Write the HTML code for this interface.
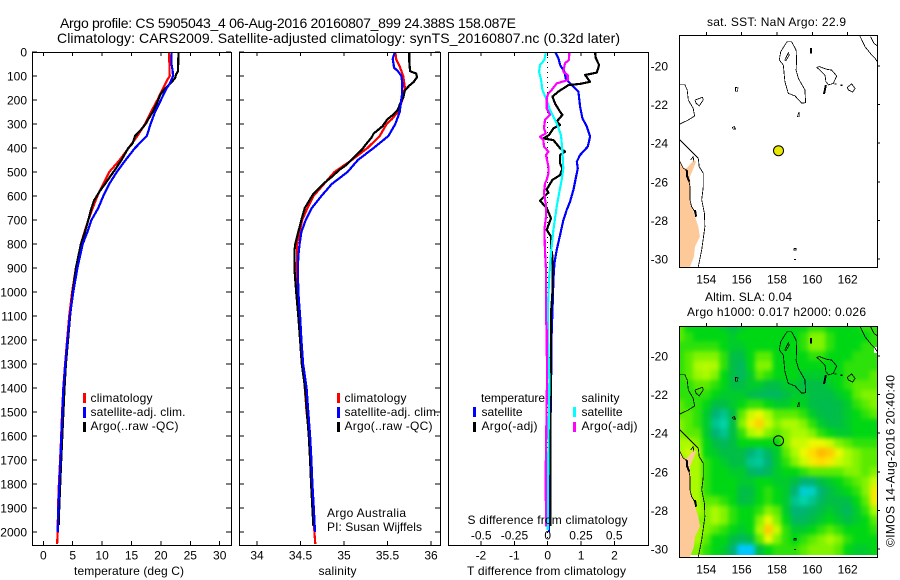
<!DOCTYPE html>
<html lang="en">
<head>
<meta charset="utf-8">
<title>Argo profile CS 5905043_4</title>
<style>
html,body{margin:0;padding:0;background:#fff;}
svg{display:block;font-family:"Liberation Sans",sans-serif;font-size:12px;fill:#000;}
.t14{font-size:14px;}
</style>
</head>
<body>
<svg id="chart" xmlns="http://www.w3.org/2000/svg" width="900" height="580" viewBox="0 0 900 580">
<rect x="0" y="0" width="900" height="580" fill="#fff"/>
<text class="t14" x="60" y="28" textLength="456" lengthAdjust="spacing">Argo profile: CS 5905043_4 06-Aug-2016 20160807_899 24.388S 158.087E</text>
<text class="t14" x="57" y="43" textLength="563" lengthAdjust="spacing">Climatology: CARS2009. Satellite-adjusted climatology: synTS_20160807.nc (0.32d later)</text>

<defs>
<clipPath id="clip-temp"><rect x="32" y="52" width="199" height="493"/></clipPath>
<clipPath id="clip-sal"><rect x="240" y="52" width="200" height="493"/></clipPath>
<clipPath id="clip-diff"><rect x="449" y="52" width="199" height="493"/></clipPath>
<clipPath id="clip-map1"><rect x="679" y="35" width="198" height="232"/></clipPath>
<clipPath id="clip-map2"><rect x="679" y="326" width="198" height="231"/></clipPath>
<clipPath id="clip-heat"><rect x="679" y="326" width="198" height="229"/></clipPath>
<filter id="heat-blur" x="-10%" y="-10%" width="120%" height="120%" color-interpolation-filters="sRGB"><feGaussianBlur stdDeviation="2.5"/></filter>
</defs>

<g id="temp-panel"></g>
<g id="sal-panel"></g>
<g id="diff-panel"></g>
<g id="map1"></g>
<g id="map2"></g>

<g>
<rect x="83" y="393" width="3" height="10" fill="#f00"/>
<rect x="83" y="407" width="3" height="11" fill="#00f"/>
<rect x="83" y="422" width="3" height="10" fill="#000"/>
<text x="90.5" y="402" textLength="62" lengthAdjust="spacing">climatology</text>
<text x="90.5" y="416" textLength="95" lengthAdjust="spacing">satellite-adj. clim.</text>
<text x="90.5" y="430" textLength="88" lengthAdjust="spacing">Argo(..raw -QC)</text>
</g>
<text x="74" y="575" textLength="110" lengthAdjust="spacing">temperature (deg C)</text>

<g>
<rect x="337" y="393" width="3" height="10" fill="#f00"/>
<rect x="337" y="407" width="3" height="11" fill="#00f"/>
<rect x="337" y="422" width="3" height="10" fill="#000"/>
<text x="344.5" y="402" textLength="62" lengthAdjust="spacing">climatology</text>
<text x="344.5" y="416" textLength="95" lengthAdjust="spacing">satellite-adj. clim.</text>
<text x="344.5" y="430" textLength="88" lengthAdjust="spacing">Argo(..raw -QC)</text>
</g>
<text x="327" y="517" textLength="79" lengthAdjust="spacing">Argo Australia</text>
<text x="327" y="531" textLength="95" lengthAdjust="spacing">PI: Susan Wijffels</text>
<text x="318.5" y="575" textLength="38" lengthAdjust="spacing">salinity</text>

<g>
<rect x="473" y="407" width="3" height="10" fill="#00f"/>
<rect x="473" y="422" width="3" height="10" fill="#000"/>
<rect x="573" y="407" width="3" height="10" fill="#0ff"/>
<rect x="573" y="422" width="3" height="10" fill="#f0f"/>
<text x="481" y="402" textLength="64" lengthAdjust="spacing">temperature</text>
<text x="481.5" y="416" textLength="41" lengthAdjust="spacing">satellite</text>
<text x="481.5" y="430" textLength="56" lengthAdjust="spacing">Argo(-adj)</text>
<text x="581.5" y="402" textLength="38" lengthAdjust="spacing">salinity</text>
<text x="581.5" y="416" textLength="41" lengthAdjust="spacing">satellite</text>
<text x="581.5" y="430" textLength="56" lengthAdjust="spacing">Argo(-adj)</text>
</g>
<text x="467.5" y="524" textLength="160" lengthAdjust="spacing">S difference from climatology</text>
<text x="467" y="575" textLength="159" lengthAdjust="spacing">T difference from climatology</text>

<text x="707" y="26" textLength="139" lengthAdjust="spacing">sat. SST: NaN Argo: 22.9</text>
<text x="705" y="301" textLength="87" lengthAdjust="spacing">Altim. SLA: 0.04</text>
<text x="687" y="316" textLength="179" lengthAdjust="spacing">Argo h1000: 0.017 h2000: 0.026</text>
<text transform="translate(894.5,547) rotate(-90)" textLength="172" lengthAdjust="spacing">©IMOS 14-Aug-2016 20:40:40</text>
</svg>

<script>
// ---------- temperature profile data ----------
const depthTicks = [0,100,200,300,400,500,600,700,800,900,1000,1100,1200,1300,1400,1500,1600,1700,1800,1900,2000];
const tempTicks = [0,5,10,15,20,25,30];
const salTicks = [34,34.5,35,35.5,36];
const salTickLabels = ['34','34.5','35','35.5','36'];
const tDiffTicks = [-2,-1,0,1,2];
const sDiffTicks = [-0.5,-0.25,0,0.25,0.5];
const sDiffTickLabels = ['-0.5','-0.25','0','0.25','0.5'];

const tempClimDepth = [0,100,120,170,200,250,300,350,400,450,500,550,600,650,700,750,800,900,1000,1100,1200,1300,1400,1500,1600,1700,1800,1900,2000,2050];
const tempClimValues = [21.4,21.5,21.0,20.0,19.4,18.3,17.3,16.0,14.5,13.0,11.2,10.2,9.2,8.4,7.65,7.0,6.4,5.55,4.9,4.4,4.05,3.7,3.4,3.2,3.05,2.85,2.65,2.5,2.45,2.35];
const tempSatDepth = [0,50,80,100,130,150,200,250,300,350,400,450,500,550,600,650,700,750,800,900,1000,1100,1200,1300,1400,1500,1600,1700,1800,1900,2000];
const tempSatValues = [21.8,21.8,22.0,22.05,21.55,21.0,20.0,19.0,18.25,17.6,15.6,14.0,12.5,11.2,10.2,9.35,8.2,7.5,6.7,5.8,5.1,4.5,4.1,3.75,3.42,3.23,3.06,2.9,2.72,2.55,2.45];
const tempArgoDepth = [0,80,95,110,125,140,160,180,200,250,280,300,330,350,380,400,450,480,520,550,580,620,650,700,750,800,900,1000,1100,1200,1300,1400,1500,1600,1700,1800,1900,1970];
const tempArgoValues = [23.0,22.9,22.55,22.4,21.8,21.25,20.4,19.85,19.55,18.6,17.85,17.4,16.4,15.6,15.2,14.45,13.3,12.5,11.35,10.5,9.6,8.6,8.2,7.65,7.1,6.4,5.55,5.0,4.55,4.2,3.85,3.6,3.42,3.23,3.05,2.87,2.7,2.62];

// ---------- salinity profile data ----------
const salClimDepth = [0,30,60,100,150,180,200,250,280,300,350,400,450,500,550,600,650,700,750,800,850,900,1000,1100,1200,1300,1400,1500,1600,1700,1800,1900,2000,2050];
const salClimValues = [35.59,35.6,35.64,35.68,35.7,35.68,35.67,35.62,35.55,35.49,35.41,35.27,35.09,34.89,34.77,34.65,34.58,34.52,34.49,34.46,34.46,34.456,34.47,34.49,34.505,34.525,34.55,34.57,34.6,34.617,34.63,34.65,34.66,34.67];
const salSatDepth = [0,15,30,50,65,80,100,130,180,250,300,350,400,450,500,550,600,650,700,750,800,850,900,1000,1100,1200,1300,1400,1500,1600,1700,1800,1900,2000];
const salSatValues = [35.59,35.57,35.56,35.57,35.575,35.62,35.66,35.67,35.665,35.64,35.59,35.51,35.34,35.16,35.04,34.86,34.74,34.63,34.56,34.51,34.49,34.475,34.47,34.475,34.495,34.51,34.53,34.57,34.59,34.61,34.625,34.637,34.653,34.667];
const salArgoDepth = [0,40,80,90,105,125,140,160,190,220,240,260,280,310,340,355,390,405,430,470,490,520,550,590,620,650,700,750,800,830,900,1000,1100,1200,1300,1400,1500,1600,1700,1800,1900,1975];
const salArgoValues = [35.75,35.75,35.76,35.83,35.84,35.8,35.75,35.7,35.68,35.64,35.62,35.57,35.5,35.44,35.34,35.32,35.24,35.21,35.14,35.03,34.95,34.86,34.76,34.65,34.6,34.55,34.51,34.475,34.44,34.43,34.43,34.45,34.475,34.495,34.515,34.553,34.573,34.595,34.61,34.622,34.637,34.648];

// ---------- difference profile data ----------
const tDiffSatDepth = [3,26,54,82,110,131,165,228,276,311,353,394,429,457,485,519,575,623,658,700,762,825,880,950,1088,1158,1400,1700,2000];
const tDiffSatValues = [0.24,0.32,0.37,0.5,0.54,0.67,0.92,0.97,1.04,1.17,1.27,1.2,0.97,0.87,0.9,0.85,0.77,0.67,0.57,0.47,0.37,0.27,0.2,0.17,0.14,0.12,0.1,0.07,0.04];
const tDiffArgoDepth = [3,26,54,86,96,124,133,138,165,186,207,214,249,262,290,304,318,346,360,367,401,415,429,464,485,513,533,561,572,586,619,651,693,741,769,811,852,922,1005,1088,1158,1400,1700,1975];
const tDiffArgoValues = [1.42,1.44,1.54,1.47,1.12,1.27,0.97,0.62,0.32,0.14,0.2,0.22,0.37,0.44,0.27,0.37,0.17,0.04,-0.13,0.17,0.37,0.52,0.37,0.37,0.44,0.37,0.14,0.02,-0.03,0.02,-0.23,-0.03,0.1,-0.03,0.1,0.1,0.14,0.14,0.14,0.1,0.1,0.09,0.08,0.08];
const sDiffSatDepth = [3,33,54,82,117,158,193,242,297,346,408,485,533,575,644,741,838,950,1088,1158,1367,1644,1992];
const sDiffSatValues = [-0.015,-0.025,-0.058,-0.065,-0.05,-0.04,-0.0125,0.0175,0.0675,0.1,0.11,0.1175,0.105,0.09,0.0675,0.0425,0.025,0.01,0,0,0.0125,0.005,0];
const sDiffArgoDepth = [3,33,47,82,96,117,131,158,172,193,235,262,283,318,339,353,367,394,415,429,478,506,533,547,589,637,686,741,832,908,1116,1158,1367,1750,1978];
const sDiffArgoValues = [0.1625,0.16,0.13,0.1175,0.15,0.15,0.0675,0.03,0.005,-0.0075,-0.0075,0.0175,-0.02,-0.0275,-0.015,-0.0575,-0.0325,-0.0275,0.005,-0.0125,0.005,0.005,-0.0075,-0.02,-0.0275,-0.0125,-0.0125,-0.025,-0.02,-0.0125,-0.0125,-0.0075,-0.005,-0.015,-0.0125];

// ---------- map data ----------
const lonTicks = [154,156,158,160,162];
const latTicks = [-20,-22,-24,-26,-28,-30];
const argoLon = 158.087;
const argoLat = -24.388;
const landLon = [152.47,152.7,152.89,153.3,153.42,153.08,153.11,153.08,153.3,153.55,153.64,153.36,153.3,153.08,152.47];
const landLat = [-24.9,-25.3,-25.3,-24.87,-24.96,-25.73,-26.25,-26.94,-27.63,-28.32,-28.84,-29.36,-29.88,-30.41,-30.41];
const contourLines = [
 [[158.58,-18.74],[158.83,-18.74],[159.08,-19.17],[159.11,-19.69],[159.08,-20.21],[159.21,-20.64],[159.58,-21.24],[159.62,-21.9],[159.4,-21.93],[159.02,-21.55],[158.64,-21.42],[158.45,-20.81],[158.36,-19.95],[158.13,-19.69],[158.21,-19.26],[158.45,-18.91],[158.58,-18.74]],
 [[158.45,-19.69],[158.64,-19.31],[158.7,-19.43],[158.51,-19.72],[158.45,-19.69]],
 [[160.25,-20.07],[160.4,-20.03],[160.81,-20.17],[161.09,-20.21],[161.38,-20.52],[161.19,-20.9],[160.91,-20.98],[160.77,-20.81],[160.72,-20.47],[160.43,-20.21],[160.25,-20.07]],
 [[161.98,-21.11],[162.23,-20.93],[162.42,-21.16],[162.28,-21.36],[162.04,-21.24],[161.98,-21.11]],
 [[162.7,-18.45],[162.98,-19.0],[163.36,-19.43],[163.55,-19.6],[163.68,-19.78]],
 [[163.3,-18.48],[163.49,-18.83],[163.68,-18.96]],
 [[155.64,-21.1],[155.79,-21.14],[155.77,-21.31],[155.66,-21.3],[155.64,-21.1]],
 [[153.36,-21.76],[153.79,-21.62],[153.83,-21.76],[153.6,-22.06],[153.42,-21.93],[153.36,-21.76]],
 [[152.47,-20.97],[152.79,-20.97],[152.92,-21.24],[152.98,-21.76],[153.26,-22.19],[153.34,-22.59],[152.98,-22.8],[152.47,-23.02]],
 [[159.15,-22.63],[159.26,-22.38],[159.26,-22.63],[159.15,-22.63]],
 [[155.47,-23.18],[155.58,-23.14],[155.66,-23.26],[155.53,-23.28],[155.47,-23.18]],
 [[158.97,-29.45],[159.07,-29.45],[159.07,-29.55],[158.97,-29.55],[158.97,-29.45]],
 [[152.47,-23.8],[153.08,-24.35],[153.55,-24.78],[153.6,-25.22],[153.83,-25.56],[153.83,-26.25],[153.74,-26.94],[153.89,-27.63],[153.92,-28.33],[153.74,-29.53],[153.55,-30.41]],
 [[152.51,-24.96],[152.7,-25.3],[152.89,-25.39],[152.98,-25.82],[153.08,-26.25],[153.08,-26.94],[153.17,-27.29],[153.3,-27.46],[153.42,-27.81]],
 [[153.11,-24.87],[153.26,-24.7],[153.3,-24.96]]
];
const reefLines = [
 [[159.92,-19.08],[159.92,-19.34]],
 [[160.77,-20.98],[160.66,-21.45]],
 [[161.32,-20.9],[161.32,-20.97]],
 [[161.66,-20.97],[161.66,-21.04]],
 [[159.02,-30.0],[159.02,-30.05]],
 [[152.89,-25.39],[152.92,-25.73],[153.04,-25.99]],
 [[153.36,-27.46],[153.42,-27.81]]
];

// ---------- SLA heatmap data (colour-scale units) ----------
const slaLons = [152.5,153,153.5,154,154.5,155,155.5,156,156.5,157,157.5,158,158.5,159,159.5,160,160.5,161,161.5,162,162.5,163,163.5];
const slaLats = [-18.5,-19,-19.5,-20,-20.5,-21,-21.5,-22,-22.5,-23,-23.5,-24,-24.5,-25,-25.5,-26,-26.5,-27,-27.5,-28,-28.5,-29,-29.5,-30,-30.5];
const slaValues = [
[1,0,0,0,0,-0.5,-1,-0.5,0,0,0,0,0,0,0,0.5,0.5,0,0,0,0,0.5,0.5],
[1,0.5,0,0,0,0,-0.5,0,0,0,0,0,0,0,0.5,1.5,1.5,0.5,0,0,0,0,0.5],
[0.5,0.5,0.5,0.5,0.5,0,-0.5,-0.5,0,0,0,0,0,0,0.5,1.5,1.5,0.5,0,0,0,0.5,0.5],
[0.5,1,1.5,1.5,1.5,0.5,-1,-1,0,1,1,0,0,0,0,0.5,0.5,0,0,0,0.5,0.5,0.5],
[0.5,1,2,2.2,2,0.5,-1,-1.5,0,1.5,1.5,0,0,0,0,0,0,0,0,0.5,0.5,0.5,0.5],
[0.5,1,1.8,2,1.5,0,-1,-1.5,-0.5,1,0.5,0,0,0,-0.5,-0.5,-0.5,0,0,0.5,0.5,0.5,1],
[0.5,0.5,1,1,0.5,0,-1,-1,-0.5,-0.5,-1,-1,-0.5,-0.5,-1,-1,-1,-0.5,0,0.5,1,1,1],
[0.5,0.5,0.5,0.5,0,-0.5,-0.5,-0.5,-1,-1.3,-1.5,-1.5,-1,-0.5,-0.5,-1,-1,-1,-0.5,0,1,1.5,1.5],
[1,0.5,0.5,0,-1,-1,-0.5,0,0.5,0.5,0,-0.5,-0.5,0,-0.3,-1,-1.2,-1.2,-1,-0.5,0.5,1,1.5],
[1,1,0.5,-0.5,-2,-2.5,-1,1,2.5,3,2,1,1,1,0.5,-0.5,-1,-1.2,-1,-0.5,0,0.5,1],
[1.5,1,0.5,-0.5,-2.5,-3,-1,1.5,3.2,4.3,2.5,1.5,2,2,1.5,0.5,-0.5,-1,-1,-0.5,0,0,0],
[1.5,1,1,-0.5,-2,-2.5,-1,0.5,2,2.5,1.5,1,1.5,2,2,1.5,0.5,0,-0.5,-0.5,0,0,0],
[2,2,1.5,0,-1,-1.5,-1,0,0,0,0,0,1.5,2.5,2.5,3,3,2.5,1.5,1,0.5,0.5,0.5],
[2,2.5,2,0,-0.5,-1,-1,-1,-2,-2.5,-1.5,-0.5,1,2,3,4,5,4.5,3,2,1.5,1,1],
[1,2,2,0.5,0,-0.5,-1,-1,-2.5,-2.7,-2,-0.5,0.5,1.5,2.5,3.5,4,3.5,2.5,2,1.5,1,1],
[1,2,2,0.5,0,0,-0.5,-0.5,-1.5,-2,-1.5,-0.5,0,0,0.5,1,1,1,1,1.5,1.5,1,1.5],
[1,2,2,0.5,0,0,0,-0.5,-0.5,0,0,-0.5,-0.5,-1,-2,-2,-1,-0.5,0,0.5,1,1.5,2.5],
[1,2,2,0.5,0,0,0,-1,-1,0,0.5,0,-0.5,-2,-3.5,-3.3,-2,-1,-0.5,0,0.5,1.5,3.5],
[1,2,2,1,1,0.5,0,-1,-0.8,0,0.5,0,-0.5,-2.5,-3,-2.5,-1.5,-1,-1,-1,0,1,3.5],
[1,2,2,1.5,2,1.5,0.5,0,0,0.5,1.5,1,-0.5,-2,-2,-1.5,-1,-0.5,-1,-1.5,-0.5,0.5,2],
[1,1.5,1.5,1.5,2,1.5,0.5,0,0,1.5,3,1.5,0,-1.5,-1.5,-1,-0.5,0,-0.5,-1,-0.5,0,1],
[1,1.5,2,1.5,1,0.5,0,-0.5,0,2,4.5,2.5,0.5,-0.5,-0.5,0,0.5,1,0.5,0,0,0,0.5],
[1,1.5,2,1,0,0,-1,-1.5,-1,1,3,1.5,0.5,0,0.5,1,1.5,2,1.5,0.5,0,0,0],
[1,1.5,1.5,0.5,0,-0.5,-2,-4,-4,-1,0,0.5,0.5,0.5,1,1.5,1.5,1.5,1,0,-0.5,-0.5,0],
[1,1.5,1.5,0.5,0,-0.5,-2,-4,-4,-1,0,0.5,0.5,0.5,1,1.5,1.5,1.5,1,0,-0.5,-0.5,0]
];
const slaScaleLevels = [-4,-3,-2,-1,0,1,2,3,4,5];
const slaScaleColors = [[0,200,255],[0,212,170],[0,180,115],[0,190,70],[0,215,20],[90,235,0],[170,250,0],[235,250,0],[255,220,0],[255,185,0]];

// ---------- axis functions ----------
const NS = 'http://www.w3.org/2000/svg';
const yDepth = d => 52 + d * 0.24;
const xTemp = v => 43.3 + v * 5.88;
const xSal = v => 257 + (v - 34) * 87;
const xTDiff = v => 547.7 + v * 33.4;
const xSDiff = v => 547.7 + v * 133;
const xLon = lon => 706.3 + (lon - 154) * 17.67;

function svgEl(parent, tag, attrs, name) {
  const el = document.createElementNS(NS, tag);
  for (const k in attrs) el.setAttribute(k, attrs[k]);
  
  
  parent.appendChild(el);
  return el;
}
function label(parent, x, y, str, anchor, name) {
  const el = svgEl(parent, 'text', {x: x, y: y, 'text-anchor': anchor}, name);
  el.textContent = str;
  return el;
}
function tick(parent, x1, y1, x2, y2, name) {
  svgEl(parent, 'line', {x1: x1, y1: y1, x2: x2, y2: y2, stroke: '#000', 'stroke-width': 1, 'shape-rendering': 'crispEdges'}, name);
}
function profile(parent, xs, depths, values, scale, color, name) {
  const pts = depths.map((d, i) => scale(values[i]).toFixed(1) + ',' + yDepth(d).toFixed(1)).join(' ');
  svgEl(parent, 'polyline', {points: pts, fill: 'none', stroke: color, 'stroke-width': xs, 'stroke-linejoin': 'round', 'shape-rendering': 'crispEdges'}, name);
}
function frame(parent, x, y, w, h, name) {
  svgEl(parent, 'rect', {x: x + 0.5, y: y + 0.5, width: w, height: h, fill: 'none', stroke: '#000', 'stroke-width': 1, 'shape-rendering': 'crispEdges'}, name);
}

// ---------- temperature panel ----------
const tempPanel = document.getElementById('temp-panel');
const tempSeries = svgEl(tempPanel, 'g', {'clip-path': 'url(#clip-temp)'}, 'temperature-series');
profile(tempSeries, 2.2, tempClimDepth, tempClimValues, xTemp, '#f00', 'climatology-temperature-line');
profile(tempSeries, 2.2, tempArgoDepth, tempArgoValues, xTemp, '#000', 'argo-temperature-line');
profile(tempSeries, 2.2, tempSatDepth, tempSatValues, xTemp, '#00f', 'satellite-temperature-line');
frame(tempPanel, 32, 52, 199, 493, 'temperature-plot-frame');
depthTicks.forEach(d => {
  tick(tempPanel, 32, yDepth(d), 37, yDepth(d), 'depth-tick-left');
  tick(tempPanel, 226, yDepth(d), 231, yDepth(d), 'depth-tick-right');
  label(tempPanel, 27, yDepth(d) + 4.5, String(d), 'end', 'depth-tick-label');
});
tempTicks.forEach(v => {
  tick(tempPanel, xTemp(v), 52, xTemp(v), 56, 'temperature-tick-top');
  tick(tempPanel, xTemp(v), 541, xTemp(v), 545, 'temperature-tick-bottom');
  label(tempPanel, xTemp(v), 559.5, String(v), 'middle', 'temperature-tick-label');
});

// ---------- salinity panel ----------
const salPanel = document.getElementById('sal-panel');
const salSeries = svgEl(salPanel, 'g', {'clip-path': 'url(#clip-sal)'}, 'salinity-series');
profile(salSeries, 2.2, salClimDepth, salClimValues, xSal, '#f00', 'climatology-salinity-line');
profile(salSeries, 2.2, salArgoDepth, salArgoValues, xSal, '#000', 'argo-salinity-line');
profile(salSeries, 2.2, salSatDepth, salSatValues, xSal, '#00f', 'satellite-salinity-line');
frame(salPanel, 239, 52, 201, 493, 'salinity-plot-frame');
depthTicks.forEach(d => {
  tick(salPanel, 239, yDepth(d), 244, yDepth(d), 'salinity-depth-tick-left');
  tick(salPanel, 435, yDepth(d), 440, yDepth(d), 'salinity-depth-tick-right');
});
salTicks.forEach((v, i) => {
  tick(salPanel, xSal(v), 52, xSal(v), 56, 'salinity-tick-top');
  tick(salPanel, xSal(v), 541, xSal(v), 545, 'salinity-tick-bottom');
  label(salPanel, xSal(v), 559.5, salTickLabels[i], 'middle', 'salinity-tick-label');
});

// ---------- difference panel ----------
const diffPanel = document.getElementById('diff-panel');
const diffSeries = svgEl(diffPanel, 'g', {'clip-path': 'url(#clip-diff)'}, 'difference-series');
svgEl(diffSeries, 'line', {x1: xTDiff(0), y1: 52, x2: xTDiff(0), y2: 545, stroke: '#000', 'stroke-width': 1, 'stroke-dasharray': '1 4', 'shape-rendering': 'crispEdges'}, 'zero-difference-line');
profile(diffSeries, 2.2, tDiffSatDepth, tDiffSatValues, xTDiff, '#00f', 'satellite-t-difference-line');
profile(diffSeries, 2.2, tDiffArgoDepth, tDiffArgoValues, xTDiff, '#000', 'argo-t-difference-line');
profile(diffSeries, 2.2, sDiffSatDepth, sDiffSatValues, xSDiff, '#0ff', 'satellite-s-difference-line');
profile(diffSeries, 2.2, sDiffArgoDepth, sDiffArgoValues, xSDiff, '#f0f', 'argo-s-difference-line');
frame(diffPanel, 448, 52, 200, 493, 'difference-plot-frame');
tDiffTicks.forEach(v => {
  tick(diffPanel, xTDiff(v), 52, xTDiff(v), 56, 'difference-tick-top');
  tick(diffPanel, xTDiff(v), 541, xTDiff(v), 545, 'difference-tick-bottom');
  label(diffPanel, xTDiff(v), 559.5, String(v), 'middle', 't-difference-tick-label');
});
sDiffTicks.forEach((v, i) => {
  label(diffPanel, xSDiff(v), 539.5, sDiffTickLabels[i], 'middle', 's-difference-tick-label');
});

// ---------- maps ----------
function drawBase(parent, yLat, clipId) {
  const base = svgEl(parent, 'g', {'clip-path': 'url(#' + clipId + ')'}, 'map-base');
  const landPts = landLon.map((lon, i) => xLon(lon).toFixed(1) + ',' + yLat(landLat[i]).toFixed(1)).join(' ');
  svgEl(base, 'polygon', {points: landPts, fill: '#fdc998', stroke: 'none'}, 'land-area');
  contourLines.forEach(line => {
    const pts = line.map(p => xLon(p[0]).toFixed(1) + ',' + yLat(p[1]).toFixed(1)).join(' ');
    svgEl(base, 'polyline', {points: pts, fill: 'none', stroke: '#000', 'stroke-width': 0.8, 'shape-rendering': 'crispEdges'}, 'isobath-contour');
  });
  reefLines.forEach(line => {
    const pts = line.map(p => xLon(p[0]).toFixed(1) + ',' + yLat(p[1]).toFixed(1)).join(' ');
    svgEl(base, 'polyline', {points: pts, fill: 'none', stroke: '#000', 'stroke-width': 2, 'shape-rendering': 'crispEdges'}, 'reef-outline');
  });
}
function drawAxes(parent, yLat, top, bottom) {
  frame(parent, 679, top, 198, bottom - top, 'map-frame');
  lonTicks.forEach(lon => {
    tick(parent, xLon(lon), top - 3, xLon(lon), top, 'longitude-tick');
    label(parent, xLon(lon), bottom + 16.5, String(lon), 'middle', 'longitude-tick-label');
  });
  latTicks.forEach(lat => {
    tick(parent, 877, yLat(lat), 880, yLat(lat), 'latitude-tick');
    label(parent, 668, yLat(lat) + 4.5, String(lat), 'end', 'latitude-tick-label');
  });
}

const y1Lat = lat => 66 + (-20 - lat) * 19.3;
const y2Lat = lat => 356 + (-20 - lat) * 19.3;

const map1 = document.getElementById('map1');
drawBase(map1, y1Lat, 'clip-map1');
svgEl(map1, 'circle', {cx: xLon(argoLon), cy: y1Lat(argoLat), r: 5, fill: '#e8e800', stroke: '#000', 'stroke-width': 1}, 'argo-float-marker');
drawAxes(map1, y1Lat, 35, 267);

function slaColor(v) {
  let i = 0;
  while (i < slaScaleLevels.length - 2 && v > slaScaleLevels[i + 1]) i++;
  const f = Math.max(0, Math.min(1, (v - slaScaleLevels[i]) / (slaScaleLevels[i + 1] - slaScaleLevels[i])));
  const a = slaScaleColors[i];
  const b = slaScaleColors[i + 1];
  return 'rgb(' + a.map((c, k) => Math.round(c + (b[k] - c) * f)).join(',') + ')';
}

const map2 = document.getElementById('map2');
const heatClip = svgEl(map2, 'g', {'clip-path': 'url(#clip-heat)'}, 'sla-heatmap-clip');
const heat = svgEl(heatClip, 'g', {filter: 'url(#heat-blur)'}, 'sla-heatmap');
slaValues.forEach((row, r) => {
  row.forEach((v, c) => {
    let x0 = xLon(slaLons[c] - 0.25);
    let x1 = xLon(slaLons[c] + 0.25);
    let y0 = y2Lat(slaLats[r] + 0.25);
    let y1 = y2Lat(slaLats[r] - 0.25);
    if (c === 0) x0 -= 20;
    if (c === row.length - 1) x1 += 20;
    if (r === 0) y0 -= 20;
    if (r === slaValues.length - 1) y1 += 20;
    svgEl(heat, 'rect', {x: x0.toFixed(1), y: y0.toFixed(1), width: (x1 - x0 + 0.6).toFixed(1), height: (y1 - y0 + 0.6).toFixed(1), fill: slaColor(v)}, 'sla-cell');
  });
});
svgEl(map2, 'rect', {x: 874, y: 347, width: 3, height: 6, fill: '#fff'}, 'missing-data-patch');
drawBase(map2, y2Lat, 'clip-map2');
svgEl(map2, 'circle', {cx: xLon(argoLon), cy: y2Lat(argoLat), r: 5, fill: 'none', stroke: '#000', 'stroke-width': 1}, 'argo-float-marker-outline');
drawAxes(map2, y2Lat, 326, 557);
</script>
</body>
</html>
